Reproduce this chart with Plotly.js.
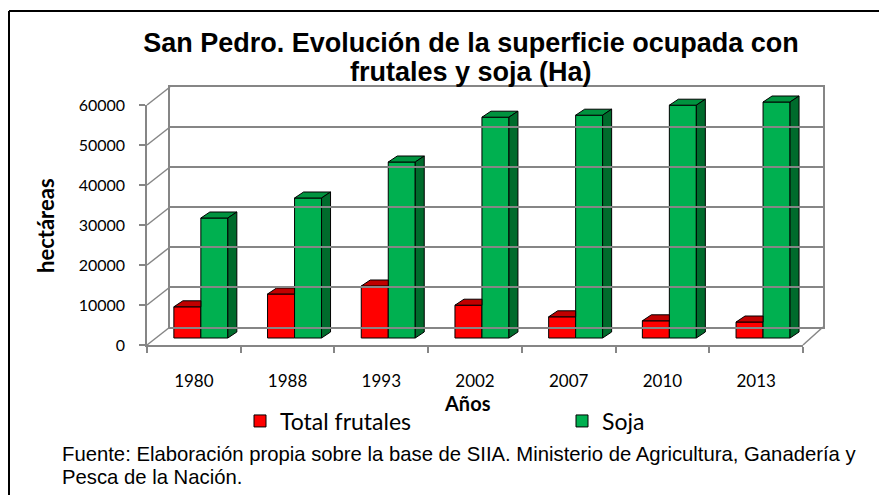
<!DOCTYPE html>
<html>
<head>
<meta charset="utf-8">
<script src="https://cdn.plot.ly/plotly-3.0.1.min.js"></script>
<style>html,body{margin:0;padding:0;background:#fff;}#chart{width:879px;height:495px;}</style>
</head>
<body>
<div id="chart"></div>
<script>
// ---- data ----
const years = ["1980", "1988", "1993", "2002", "2007", "2010", "2013"];
const frutales = [7800, 11000, 13000, 8200, 5300, 4300, 4000];
const soja = [30000, 35000, 44000, 55200, 55700, 58200, 59000];
const yTicks = [0, 10000, 20000, 30000, 40000, 50000, 60000];
const seriesNames = ["Total frutales", "Soja"];
const titleLines = ["San Pedro. Evolución de la superficie ocupada con", "frutales y soja (Ha)"];
const sourceLines = ["Fuente: Elaboración propia sobre la base de SIIA. Ministerio de Agricultura, Ganadería y", "Pesca de la Nación."];

// ---- geometry helpers (pixels -> paper) ----
const W = 879, H = 495;
const fx = p => p / W;
const fy = p => 1 - p / H;

// bar plane (mid-depth)
const CAT = 93.7;            // px per category
const BX0 = 154;             // left edge of category band in bar plane
const BY0 = 338;             // y pixel of value 0 in bar plane
const PPU = 0.004;           // px per hectare
const bxDom = [140, 835], byDom = [345, 80];
const bxRange = bxDom.map(p => -0.5 + (p - BX0) / CAT);
const byRange = byDom.map(p => (BY0 - p) / PPU);

// front plane & back wall
const FX = [147, 803], FY = [345, 105];
const BKX = [170, 823], BKY = [327, 87];

const BW = 0.288;            // bar width in category units
const DX = 9 / CAT;          // depth offset x (units)
const DY = 6 / PPU;          // depth offset y (units)

const idx = years.map((_, i) => i);
const redL = idx.map(i => i - BW), redR = idx.map(i => i);
const grnL = idx.map(i => i), grnR = idx.map(i => i + BW);

function poly(fn) {
  const xs = [], ys = [];
  idx.forEach(i => { const p = fn(i); p.forEach(q => { xs.push(q[0]); ys.push(q[1]); }); xs.push(null); ys.push(null); });
  return {xs, ys};
}
const redTop = poly(i => [[redL[i], frutales[i]], [redR[i], frutales[i]], [redR[i], frutales[i] + DY], [redL[i] + DX, frutales[i] + DY], [redL[i], frutales[i]]]);
const grnTop = poly(i => [[grnL[i], soja[i]], [grnR[i], soja[i]], [grnR[i] + DX, soja[i] + DY], [grnL[i] + DX, soja[i] + DY], [grnL[i], soja[i]]]);
const grnSide = poly(i => [[grnR[i], 0], [grnR[i], soja[i]], [grnR[i] + DX, soja[i] + DY], [grnR[i] + DX, DY], [grnR[i], 0]]);

const faceTrace = (p, fill) => ({
  type: 'scatter', mode: 'lines', x: p.xs, y: p.ys, fill: 'toself', fillcolor: fill,
  line: {color: '#000', width: 1}, showlegend: false, hoverinfo: 'skip', xaxis: 'x', yaxis: 'y'
});

const traces = [
  {type: 'scatter', x: years, y: years.map(() => null), xaxis: 'x2', yaxis: 'y2', showlegend: false, hoverinfo: 'skip', mode: 'markers'},
  {type: 'scatter', x: [0], y: [null], xaxis: 'x3', yaxis: 'y3', showlegend: false, hoverinfo: 'skip', mode: 'markers'},
  {type: 'bar', name: seriesNames[0], legend: 'legend', x: idx, y: frutales, offset: -BW, width: BW, text: years, hovertemplate: '%{text}: %{y}<extra>' + seriesNames[0] + '</extra>', textposition: 'none',
   marker: {color: '#FF0000', line: {color: '#000', width: 1}}, xaxis: 'x', yaxis: 'y'},
  {type: 'bar', name: seriesNames[1], legend: 'legend2', x: idx, y: soja, offset: 0, width: BW, text: years, hovertemplate: '%{text}: %{y}<extra>' + seriesNames[1] + '</extra>', textposition: 'none',
   marker: {color: '#00B050', line: {color: '#000', width: 1}}, xaxis: 'x', yaxis: 'y'},
  faceTrace(redTop, '#C00000'),
  faceTrace(grnTop, '#00933F'),
  faceTrace(grnSide, '#006B2C')
];

const GRID = '#868686';
const shapes = [];
// left wall diagonals from front ticks to back wall
yTicks.forEach(v => {
  const yf = FY[0] - (FY[0] - FY[1]) * v / 60000;
  const yb = BKY[0] - (BKY[0] - BKY[1]) * v / 60000;
  shapes.push({type: 'line', xref: 'paper', yref: 'paper', x0: fx(FX[0]), y0: fy(yf), x1: fx(BKX[0]), y1: fy(yb), line: {color: GRID, width: 1.5}});
});
// floor right diagonal
shapes.push({type: 'line', xref: 'paper', yref: 'paper', x0: fx(FX[1]), y0: fy(FY[0]), x1: fx(BKX[1]), y1: fy(BKY[0]), line: {color: GRID, width: 1.5}});
// outer frame (left & top)
shapes.push({type: 'line', xref: 'paper', yref: 'paper', x0: fx(9), y0: fy(11), x1: fx(9), y1: fy(500), line: {color: '#000', width: 2}});
shapes.push({type: 'line', xref: 'paper', yref: 'paper', x0: fx(9), y0: fy(11), x1: fx(885), y1: fy(11), line: {color: '#000', width: 2}});

const CAL = 'Lato, "Open Sans", sans-serif';
const ARIAL = '"Liberation Sans", Arial, sans-serif';
const legendBase = {orientation: 'h', xanchor: 'left', yanchor: 'middle', font: {family: CAL, size: 23, color: '#000'},
                    bgcolor: 'rgba(0,0,0,0)', itemclick: false, itemdoubleclick: false};
const layout = {
  width: W, height: H, margin: {l: 0, r: 0, t: 0, b: 0},
  paper_bgcolor: '#fff', plot_bgcolor: 'rgba(0,0,0,0)',
  showlegend: true,
  barmode: 'overlay',
  title: {text: titleLines[0], x: fx(471), xanchor: 'center', yref: 'paper', y: fy(43), yanchor: 'middle',
          font: {family: ARIAL, size: 27, color: '#000', weight: 'bold'}},
  xaxis: {domain: [fx(bxDom[0]), fx(bxDom[1])], range: bxRange, visible: false, fixedrange: true, anchor: 'y'},
  yaxis: {domain: [fy(byDom[0]), fy(byDom[1])], range: byRange, visible: false, fixedrange: true, anchor: 'x'},
  xaxis2: {domain: [fx(FX[0]), fx(FX[1])], type: 'category', categoryarray: years, categoryorder: 'array', range: [-0.5, 6.5], anchor: 'y2',
           showline: true, linecolor: GRID, linewidth: 1.5, ticks: 'outside', tickson: 'boundaries', ticklen: 6, tickcolor: GRID, tickwidth: 1.5,
           showgrid: false, zeroline: false, ticklabelstandoff: 20, tickfont: {family: CAL, size: 17, color: '#000'}, fixedrange: true},
  yaxis2: {domain: [fy(FY[0]), fy(FY[1])], range: [0, 60000], anchor: 'x2', tickvals: yTicks, ticktext: yTicks.map(String),
           showline: true, linecolor: GRID, linewidth: 1.5, ticks: 'outside', ticklen: 6, tickcolor: GRID, tickwidth: 1.5,
           showgrid: false, zeroline: false, ticklabelstandoff: 11, tickfont: {family: CAL, size: 16, color: '#000'}, fixedrange: true},
  xaxis3: {domain: [fx(BKX[0]), fx(BKX[1])], range: [0, 1], anchor: 'y3', showticklabels: false, ticks: '', showgrid: false, zeroline: false,
           showline: true, mirror: true, linecolor: GRID, linewidth: 1.5, fixedrange: true},
  yaxis3: {domain: [fy(BKY[0]), fy(BKY[1])], range: [0, 60000], anchor: 'x3', tickvals: yTicks, showticklabels: false, ticks: '',
           showgrid: true, gridcolor: GRID, gridwidth: 1.5, zeroline: false, showline: true, mirror: true, linecolor: GRID, linewidth: 1.5, fixedrange: true},
  legend: Object.assign({}, legendBase, {x: fx(240), y: fy(421)}),
  legend2: Object.assign({}, legendBase, {x: fx(562), y: fy(421)}),
  annotations: [
    {text: titleLines[1], xref: 'paper', yref: 'paper', x: fx(471), y: fy(72), xanchor: 'center', yanchor: 'middle', showarrow: false,
     font: {family: ARIAL, size: 27, color: '#000', weight: 'bold'}},
    {text: 'hectáreas', xref: 'paper', yref: 'paper', x: fx(45), y: fy(226), xanchor: 'center', yanchor: 'middle', textangle: -90, showarrow: false,
     font: {family: CAL, size: 22, color: '#000', weight: 'bold'}},
    {text: 'Años', xref: 'paper', yref: 'paper', x: fx(467), y: fy(403), xanchor: 'center', yanchor: 'middle', showarrow: false,
     font: {family: CAL, size: 20, color: '#000', weight: 'bold'}},
    {text: sourceLines[0], xref: 'paper', yref: 'paper', x: fx(60), y: fy(454), xanchor: 'left', yanchor: 'middle', align: 'left', showarrow: false,
     font: {family: ARIAL, size: 20.3, color: '#000'}},
    {text: sourceLines[1], xref: 'paper', yref: 'paper', x: fx(60), y: fy(477), xanchor: 'left', yanchor: 'middle', align: 'left', showarrow: false,
     font: {family: ARIAL, size: 20.3, color: '#000'}}
  ],
  shapes: shapes
};

Plotly.newPlot('chart', traces, layout, {displayModeBar: false, responsive: false});
</script>
</body>
</html>
